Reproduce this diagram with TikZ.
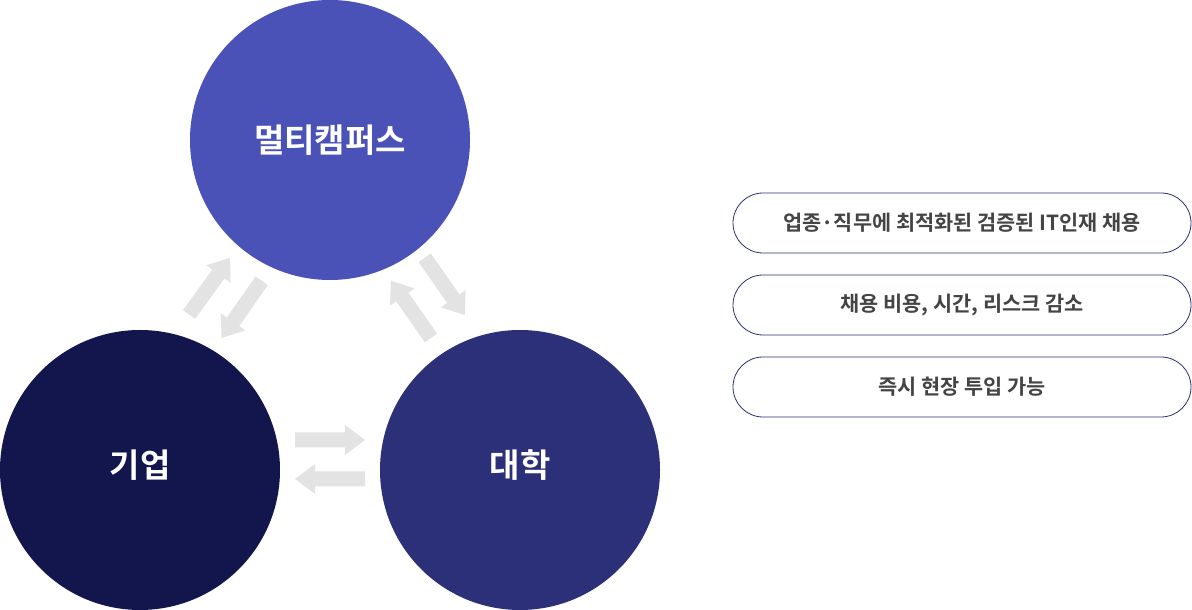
\documentclass[tikz,border=0pt]{standalone}
\usepackage{fontspec}
\newfontfamily\krb{Noto Sans CJK KR Bold}
\definecolor{ctop}{HTML}{4B52B7}
\definecolor{cleft}{HTML}{12164C}
\definecolor{cright}{HTML}{2B3078}
\definecolor{agray}{HTML}{E3E3E3}
\definecolor{txtgray}{HTML}{444444}
\begin{document}
\begin{tikzpicture}[x=1pt,y=1pt,
  circ/.style={circle,minimum size=280pt,inner sep=0pt,text=white,font=\krb\fontsize{33}{38}\selectfont},
  lbl/.style={text=white,font=\krb\fontsize{33}{38}\selectfont,inner sep=0pt},
  pill/.style={draw=cright,line width=0.8pt,rounded corners=30pt,minimum width=458pt,minimum height=60pt,fill=white,text=txtgray,font=\krb\fontsize{20.8}{24}\selectfont},
  blockarrow/.pic={\fill[agray] (0,-7.5) -- (50,-7.5) -- (50,-15) -- (70,0) -- (50,15) -- (50,7.5) -- (0,7.5) -- cycle;}
]
\useasboundingbox (0,0) rectangle (1192,610);
\node[circ,fill=ctop] (mc) at (330,470) {멀티캠퍼스};
\node[circ,fill=cleft] (co) at (140,140) {};
\node[circ,fill=cright] (un) at (520,140) {};
\node[lbl] (colbl) at ([yshift=5pt]co.center) {기업};
\node[lbl] (unlbl) at ([yshift=5pt]un.center) {대학};
% block arrows
\coordinate (a1) at (189,295.5);
\coordinate (a2) at (261.7,329.2);
\coordinate (a3) at (424.7,352.2);
\coordinate (a4) at (431,272);
\coordinate (a5) at (295,170);
\coordinate (a6) at (365,131);
\path (a1) pic[rotate=54] {blockarrow};
\path (a2) pic[rotate=235] {blockarrow};
\path (a3) pic[rotate=-55] {blockarrow};
\path (a4) pic[rotate=125] {blockarrow};
\path (a5) pic {blockarrow};
\path (a6) pic[rotate=180] {blockarrow};
% pills
\node[pill] (p1) at (962,387) {업종·직무에 최적화된 검증된 IT인재 채용};
\node[pill] (p2) at (962,305) {채용 비용, 시간, 리스크 감소};
\node[pill] (p3) at (962,223) {즉시 현장 투입 가능};
\end{tikzpicture}
\end{document}
